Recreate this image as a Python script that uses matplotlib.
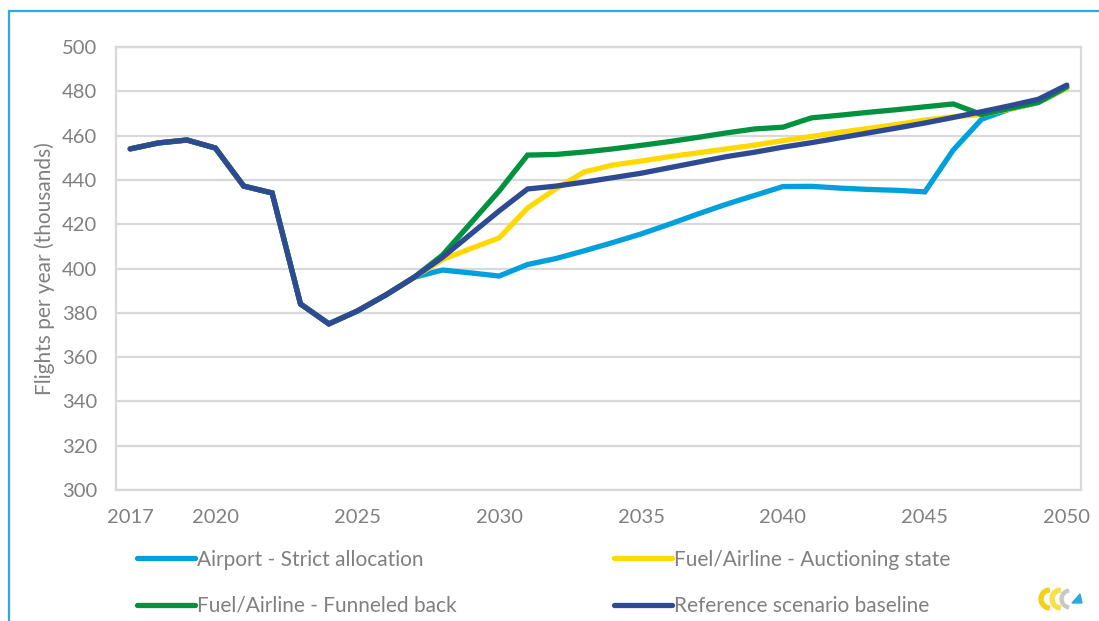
import matplotlib.pyplot as plt
from matplotlib.patches import Rectangle, Wedge, Polygon

# --- data ---
years = list(range(2017, 2051))

baseline = [454, 456.7, 458, 454.4, 437.2, 434.1, 384, 375, 380.8, 388, 396, 405,
            415.5, 426, 435.9, 437.2, 439, 441, 443, 445.5, 448, 450.5, 452.5, 454.8,
            456.8, 459, 461.2, 463.4, 465.7, 468.2, 470.8, 473.5, 476.4, 482.8]
funneled = [454, 456.7, 458, 454.4, 437.2, 434.1, 384, 375, 380.8, 388, 396, 406,
            420.5, 435, 451.2, 451.5, 452.6, 454, 455.6, 457.3, 459.2, 461.2, 463, 463.8,
            468, 469.2, 470.5, 471.7, 473, 474.3, 469.5, 472.3, 475, 482]
auctioning = [454, 456.7, 458, 454.4, 437.2, 434.1, 384, 375, 380.8, 388, 396, 404,
              409, 413.8, 427.3, 436, 443.6, 446.7, 448.5, 450.5, 452.2, 454, 455.7, 457.7,
              459.6, 461.5, 463.2, 465, 467, 468.5, 469.5, 472, 475, 481.5]
strict = [454, 456.7, 458, 454.4, 437.2, 434.1, 384, 375, 380.8, 388, 396, 399.3,
          398, 396.6, 401.8, 404.5, 408, 411.7, 415.6, 420, 424.6, 429, 433, 437,
          437.1, 436.3, 435.7, 435.3, 434.6, 453.5, 467.4, 472, 475, 481.5]

series_names = ["Airport - Strict allocation", "Fuel/Airline - Auctioning state",
                "Fuel/Airline - Funneled back", "Reference scenario baseline"]
series_values = [strict, auctioning, funneled, baseline]
series_colors = ["#00A0DC", "#FFD900", "#00923F", "#2F4A94"]

x_ticks = [2017, 2020, 2025, 2030, 2035, 2040, 2045, 2050]
y_ticks = list(range(300, 501, 20))

# --- figure ---
plt.rcParams['font.family'] = ['Lato', 'DejaVu Sans']
text_grey = "#808080"
grid_grey = "#D9D9D9"

fig = plt.figure(figsize=(10.99, 6.21), dpi=100)
ax = fig.add_axes([116 / 1099, 1 - 490 / 621, (1081 - 116) / 1099, (490 - 47) / 621])

lines = []
for name, vals, col in zip(series_names, series_values, series_colors):
    ln, = ax.plot(years, vals, color=col, lw=3.8, label=name, solid_capstyle='round',
                  solid_joinstyle='miter')
    lines.append(ln)

ax.set_xlim(2016.5, 2050.5)
ax.set_ylim(300, 500)
ax.set_xticks(x_ticks)
ax.set_yticks(y_ticks)
ax.tick_params(length=0, labelsize=14.5, labelcolor=text_grey)
ax.tick_params(axis='y', pad=13.5)
ax.tick_params(axis='x', pad=14)
ax.grid(axis='y', color=grid_grey, lw=1.6)
ax.set_axisbelow(True)
for sp in ax.spines.values():
    sp.set_color(grid_grey)
    sp.set_linewidth(1.6)

ax.set_ylabel("Flights per year (thousands)", fontsize=15, color=text_grey, labelpad=5)

# legend: two columns, row-wise order like the original
order = [0, 2, 1, 3]
leg = fig.legend([lines[i] for i in order], [series_names[i] for i in order],
                 loc='upper left', bbox_to_anchor=(118 / 1099, 1 - 531 / 621), ncol=2,
                 frameon=False, fontsize=15, handlelength=2.8, handletextpad=0.1,
                 columnspacing=7.55, labelspacing=1.25, labelcolor=text_grey)

# blue frame round the figure (cut at right and bottom)
fig.patches.append(Rectangle((9 / 1099, -0.1), 1.2, 1 - 11 / 621 + 0.1,
                             transform=fig.transFigure, fill=False,
                             edgecolor="#29ABE2", lw=1.6))

# small logo at bottom right
logo = fig.add_axes([1030 / 1099, 1 - 617 / 621, 60 / 1099, 36 / 621])
logo.set_xlim(0, 60)
logo.set_ylim(0, 36)
logo.set_aspect('equal')
logo.axis('off')
logo.add_patch(Wedge((20, 18), 11, 95, 265, width=4, color="#F2D21B"))
logo.add_patch(Wedge((31, 18), 11, 95, 265, width=4, color="#F5E04A"))
logo.add_patch(Wedge((40, 18), 10, 100, 260, width=3, color="#C8C8C8"))
logo.add_patch(Polygon([[42, 14], [52, 14], [50, 23]], color="#29ABE2"))

fig.savefig("out.png", dpi=100)
